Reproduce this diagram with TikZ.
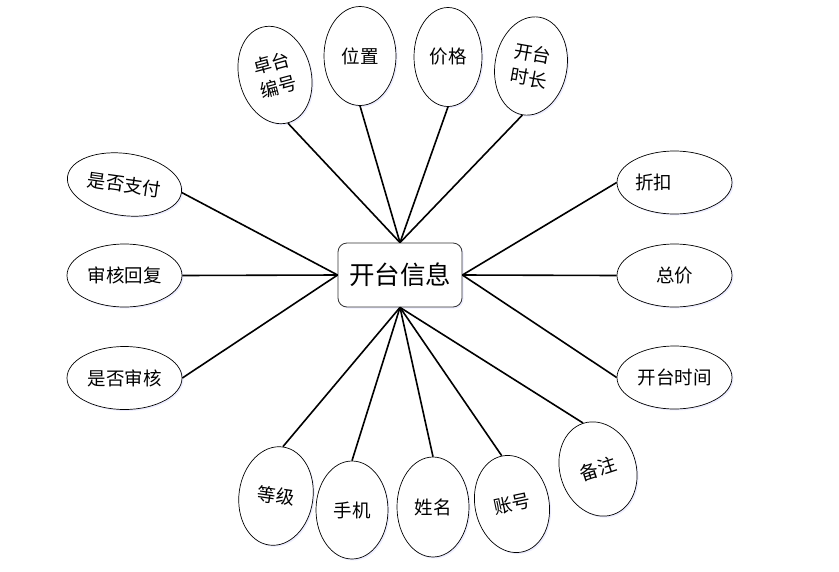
\documentclass[tikz,border=0pt]{standalone}
\usepackage{fontspec}
\newfontfamily\cjk{Noto Sans CJK SC}
\usetikzlibrary{shapes.geometric,shadows}
\begin{document}
\begin{tikzpicture}[x=1pt,y=-1pt,
  attr/.style={ellipse,draw=black,line width=0.7pt,fill=white,inner sep=0pt,
    font=\cjk\fontsize{18.5}{24.5}\selectfont,align=center,
    general shadow={fill=blue!7,shadow xshift=1.5pt,shadow yshift=-1.5pt}},
  hattr/.style={attr,minimum width=115pt,minimum height=63pt},
  vattr/.style={attr,minimum width=72pt,minimum height=99pt},
  link/.style={draw=black,line width=1.6pt},
  entity/.style={rectangle,rounded corners=9pt,draw=black!80,line width=0.8pt,fill=white,
    minimum width=124pt,minimum height=64pt,font=\cjk\fontsize{25.5}{30}\selectfont,
    general shadow={fill=blue!7,shadow xshift=1.5pt,shadow yshift=-1.5pt}}]
\useasboundingbox (0,0) rectangle (839,571);
\fill[white] (0,0) rectangle (839,571);

\node[entity] (c) at (400,275) {开台信息};

% top
\node[vattr,rotate=15] (zt) at (275,75) {卓台\\编号};
\node[vattr,minimum width=72pt] (wz) at (360,56) {位置};
\node[vattr,minimum width=68pt] (jg) at (448,57) {价格};
\node[vattr,rotate=-10] (sc) at (531,66) {开台\\时长};

% left
\node[hattr,rotate=-8,minimum height=62pt] (zf) at (124.5,184.5) {是否支付};
\node[hattr] (hf) at (124.5,275.5) {审核回复};
\node[hattr] (sh) at (124.5,378) {是否审核};

% right
\node[hattr] (zk) at (674.5,182.5) {折扣\hspace{42pt}};
\node[hattr] (zj) at (674.5,275.5) {总价};
\node[hattr] (sj) at (674.5,377.5) {开台时间};

% bottom
\node[vattr,rotate=-8,minimum width=74pt] (dj) at (276,496) {等级};
\node[vattr,minimum height=98pt] (sj2) at (352,510) {手机};
\node[vattr,minimum height=100pt] (xm) at (433,507) {姓名};
\node[vattr,rotate=12,minimum width=74pt,minimum height=98pt] (zh) at (512,504) {账号};
\node[vattr,rotate=18,minimum width=76pt,minimum height=96pt] (bz) at (598,469) {备注};

% connectors
\draw[link] (c.north) -- (zt.south);
\draw[link] (c.north) -- (wz.south);
\draw[link] (c.north) -- (jg.south);
\draw[link] (c.north) -- (sc.south);
\draw[link] (c.west) -- (zf.east);
\draw[link] (c.west) -- (hf.east);
\draw[link] (c.west) -- (sh.east);
\draw[link] (c.east) -- (zk.west);
\draw[link] (c.east) -- (zj.west);
\draw[link] (c.east) -- (sj.west);
\draw[link] (c.south) -- (dj.north);
\draw[link] (c.south) -- (sj2.north);
\draw[link] (c.south) -- (xm.north);
\draw[link] (c.south) -- (zh.north);
\draw[link] (c.south) -- (bz.north);
\end{tikzpicture}
\end{document}
